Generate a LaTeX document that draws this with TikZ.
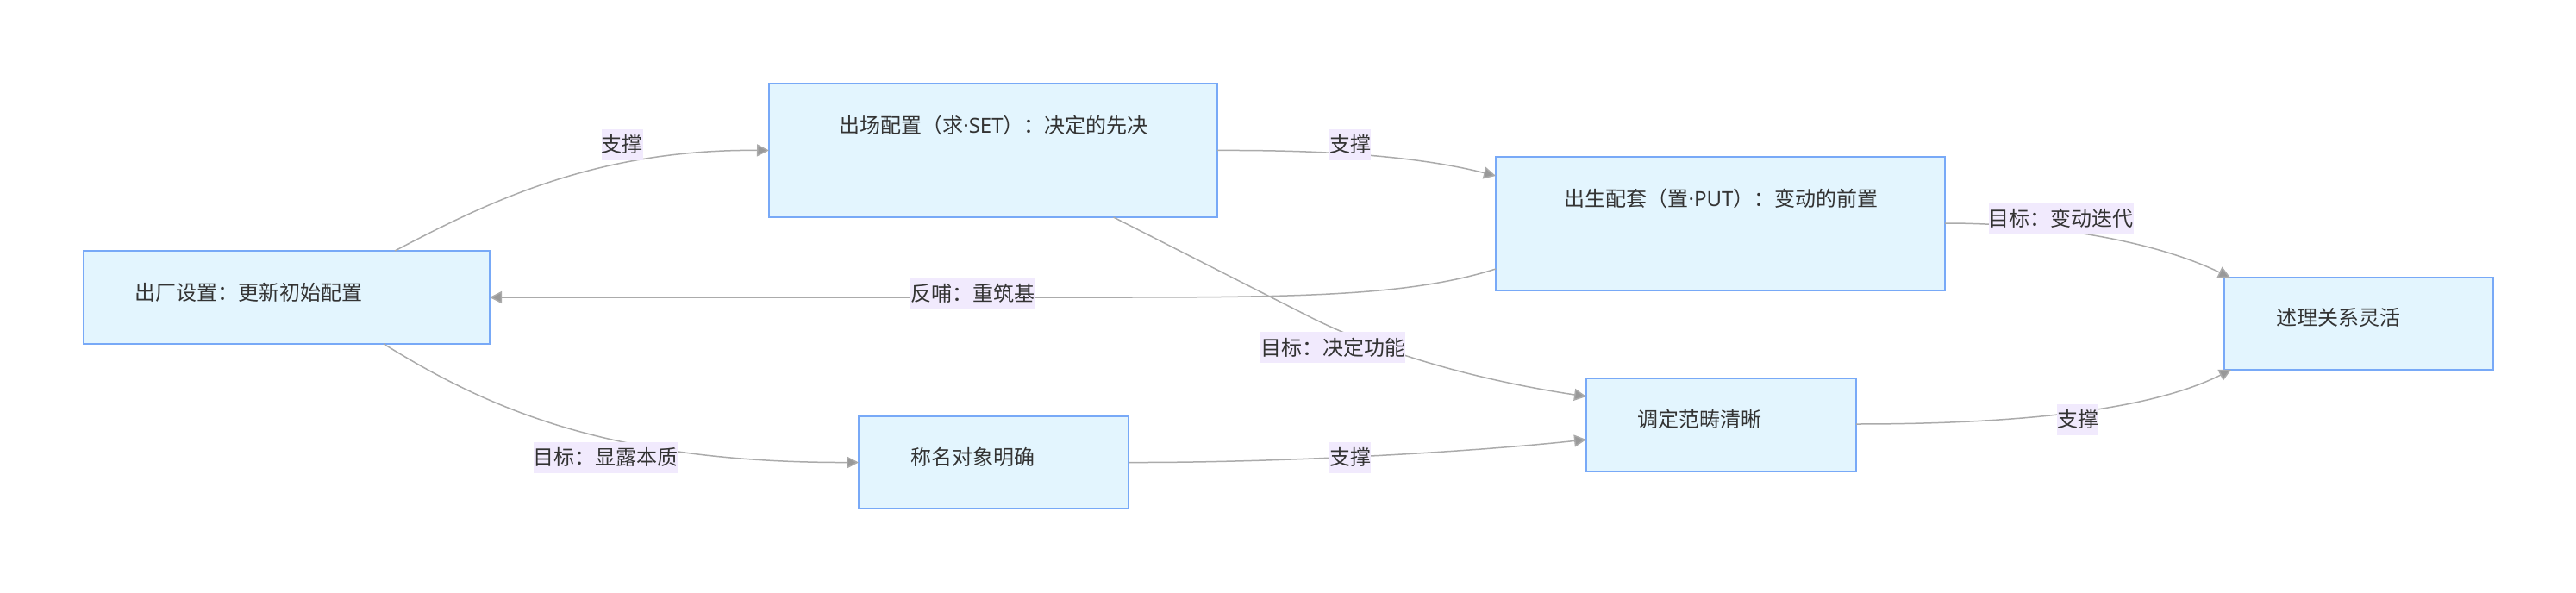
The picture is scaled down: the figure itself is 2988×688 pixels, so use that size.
\documentclass[tikz,border=0pt]{standalone}
\usepackage{fontspec}
\setmainfont{Noto Sans CJK SC}
\newfontfamily\latinf{Noto Sans}
\usetikzlibrary{arrows.meta}
\definecolor{boxfill}{HTML}{E3F5FE}
\definecolor{boxline}{HTML}{78A9F7}
\definecolor{edgeline}{HTML}{ABABAB}
\definecolor{tipfill}{HTML}{999999}
\definecolor{lblfill}{HTML}{F1EAFD}
\definecolor{txt}{HTML}{333333}
\tikzset{
  box/.style={draw=boxline, fill=boxfill, line width=1.6pt, inner sep=0pt, outer sep=0pt},
  boxtext/.style={inner sep=0pt, text=txt, font=\fontsize{24pt}{28pt}\selectfont},
  lbl/.style={fill=lblfill, inner xsep=0pt, inner ysep=0pt, minimum height=36pt, text=txt, font=\fontsize{24pt}{28pt}\selectfont},
  conn/.style={draw=edgeline, line width=1.5pt, -{Triangle[length=14pt,width=14pt,fill=tipfill]}},
}
\begin{document}
\begin{tikzpicture}[x=1pt,y=-1pt]
\useasboundingbox (0,0) rectangle (2988,688);
% boxes
\node[box, minimum width=471pt, minimum height=108pt] (A) at (332.5,345) {};
\node[box, minimum width=520pt, minimum height=155pt] (B) at (1152,174.5) {};
\node[box, minimum width=521pt, minimum height=155pt] (C) at (1995.5,259.5) {};
\node[box, minimum width=313pt, minimum height=107pt] (D) at (1152.5,536.5) {};
\node[box, minimum width=313pt, minimum height=108pt] (E) at (1996.5,493) {};
\node[box, minimum width=312pt, minimum height=107pt] (F) at (2736,375.5) {};
% box texts
\node[boxtext] (At) at (288,339) {出厂设置：更新初始配置};
\node[boxtext] (Bt) at (1152.5,145) {出场配置（求{\latinf ·SET}）：决定的先决};
\node[boxtext] (Ct) at (1996.5,230) {出生配套（置{\latinf ·PUT}）：变动的前置};
\node[boxtext] (Dt) at (1128,530) {称名对象明确};
\node[boxtext] (Et) at (1971,486) {调定范畴清晰};
\node[boxtext] (Ft) at (2712,368) {述理关系灵活};
% connectors
\draw[conn] ([xshift=125.5pt]A.north) .. controls (565,235) and (690,173) .. (B.west);
\draw[conn] ([xshift=112.5pt]A.south) .. controls (560,470) and (700,537) .. (D.west);
\draw[conn] (B.east) .. controls (1530,174) and (1640,180) .. ([yshift=55.5pt]C.west);
\draw[conn] ([yshift=-52.5pt]C.west) .. controls (1640,342) and (1520,345) .. (1300,345) -- (A.east);
\draw[conn] ([xshift=139.5pt]B.south) -- (1520,368) .. controls (1620,418) and (1740,445) .. ([yshift=33pt]E.west);
\draw[conn] (D.east) .. controls (1480,537) and (1700,525) .. ([yshift=-17pt]E.west);
\draw[conn] ([yshift=0.5pt]C.east) .. controls (2380,259) and (2500,280) .. ([xshift=7pt]F.north west);
\draw[conn] ([yshift=1pt]E.east) .. controls (2330,492) and (2490,478) .. ([xshift=8pt]F.south west);
% edge labels
\node[lbl] (L1) at (721.5,167.5) {支撑};
\node[lbl] (L2) at (702.5,530.5) {目标：显露本质};
\node[lbl] (L3) at (1566,167.5) {支撑};
\node[lbl] (L4) at (1128,340) {反哺：重筑基};
\node[lbl] (L5) at (1546,403) {目标：决定功能};
\node[lbl] (L6) at (1566,530.5) {支撑};
\node[lbl] (L7) at (2390.5,253.5) {目标：变动迭代};
\node[lbl] (L8) at (2410,486.5) {支撑};
\end{tikzpicture}
\end{document}
